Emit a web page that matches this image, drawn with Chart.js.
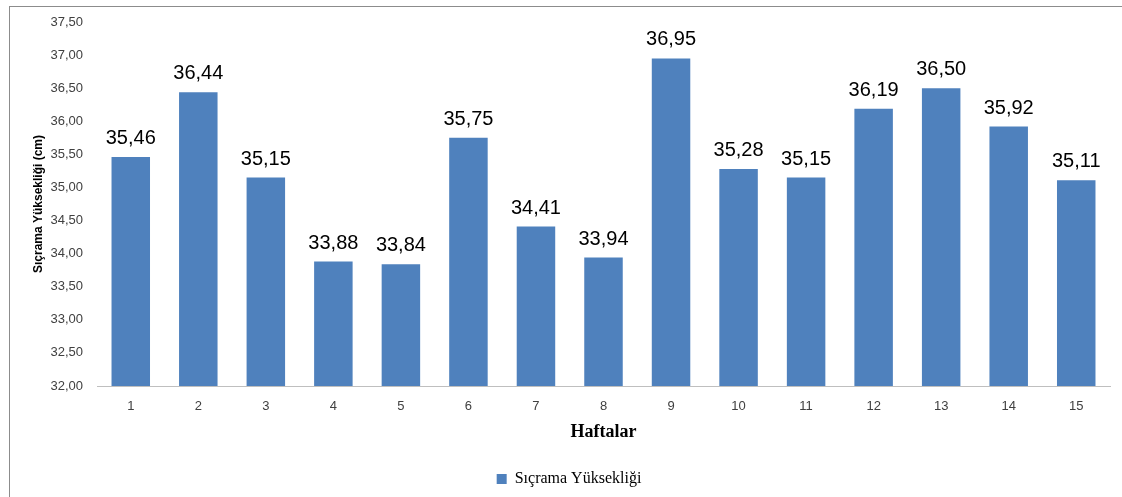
<!DOCTYPE html>
<html>
<head>
<meta charset="utf-8">
<script src="https://cdn.jsdelivr.net/npm/chart.js@4"></script>
<style>
html,body{margin:0;padding:0;background:#fff;}
#wrap{position:relative;width:1122px;height:497px;overflow:hidden;}
#frame{position:absolute;left:9px;top:6px;width:1200px;height:600px;border-left:1px solid #8c8c8c;border-top:1px solid #8c8c8c;}
canvas{position:absolute;left:0;top:0;}
</style>
</head>
<body>
<div id="wrap">
<div id="frame"></div>
<canvas id="c" width="1122" height="497"></canvas>
</div>
<script>
const weeks = ["1","2","3","4","5","6","7","8","9","10","11","12","13","14","15"];
const jumpHeight = [35.46,36.44,35.15,33.88,33.84,35.75,34.41,33.94,36.95,35.28,35.15,36.19,36.50,35.92,35.11];
const seriesName = "Sıçrama Yüksekliği";
const yTitle = "Sıçrama Yüksekliği (cm)";
const xTitle = "Haftalar";

const fmt = v => v.toFixed(2).replace('.', ',');

const labelPlugin = {
  id: 'valueLabels',
  afterDatasetsDraw(chart) {
    const ctx = chart.ctx;
    const meta = chart.getDatasetMeta(0);
    ctx.save();
    ctx.font = '20px "Liberation Sans", Arial, sans-serif';
    ctx.fillStyle = '#000000';
    ctx.textAlign = 'center';
    ctx.textBaseline = 'alphabetic';
    meta.data.forEach((bar, i) => {
      ctx.fillText(fmt(jumpHeight[i]), bar.x, bar.y - 13);
    });
    ctx.restore();
  }
};

new Chart(document.getElementById('c'), {
  type: 'bar',
  data: {
    labels: weeks,
    datasets: [{
      label: seriesName,
      data: jumpHeight,
      backgroundColor: '#4F81BD',
      borderWidth: 0,
      barPercentage: 0.57,
      categoryPercentage: 1.0
    }]
  },
  options: {
    responsive: false,
    animation: false,
    devicePixelRatio: 1,
    layout: { padding: { left: 28, right: 12, top: 22, bottom: 0 } },
    plugins: {
      legend: {
        position: 'bottom',
        labels: {
          boxWidth: 10, boxHeight: 10, padding: 6,
          color: '#000',
          font: { family: '"Liberation Serif", "Times New Roman", serif', size: 16 }
        }
      },
      tooltip: { enabled: false }
    },
    scales: {
      y: {
        min: 32, max: 37.5,
        afterFit(s) { s.width = 69; },
        border: { display: false },
        grid: { display: false, drawTicks: false },
        ticks: {
          stepSize: 0.5,
          padding: 14,
          color: '#404040',
          font: { family: '"Liberation Sans", Arial, sans-serif', size: 13 },
          callback: v => fmt(v)
        },
        title: {
          display: true, text: yTitle, color: '#000',
          font: { family: '"Liberation Sans", Arial, sans-serif', size: 12, weight: 'bold' },
          padding: { top: 3, bottom: 2 }
        }
      },
      x: {
        afterFit(s) { s.height = 79; },
        border: { display: true, color: '#bfbfbf', width: 1 },
        grid: { display: false, drawTicks: false },
        ticks: {
          padding: 13,
          color: '#404040',
          font: { family: '"Liberation Sans", Arial, sans-serif', size: 13 }
        },
        title: {
          display: true, text: xTitle, color: '#000',
          font: { family: '"Liberation Serif", "Times New Roman", serif', size: 18, weight: 'bold' },
          padding: { top: 6, bottom: 22 }
        }
      }
    }
  },
  plugins: [labelPlugin]
});
</script>
</body>
</html>
